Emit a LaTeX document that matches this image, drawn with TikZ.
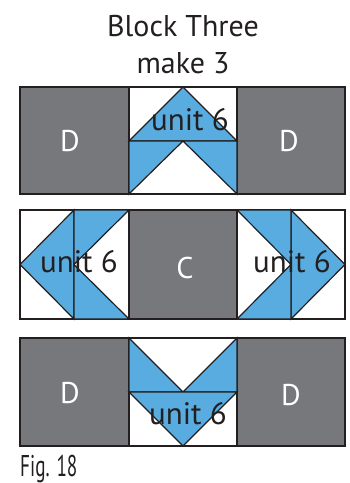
\documentclass[tikz,border=0pt]{standalone}
\usepackage{fontspec}
\setmainfont{PT Sans}
\newfontfamily\narrowfont[FakeStretch=0.64]{PT Sans}
\definecolor{qgrey}{HTML}{77787B}
\definecolor{qblue}{HTML}{58ACE0}
\definecolor{qline}{HTML}{231F20}
\begin{document}
\begin{tikzpicture}[x=1pt,y=-1pt,%
% common options for the patches:
patch/.style = {draw=qline, line width=1.2pt, line join=miter},
dark/.style = {patch, fill=qgrey},
geese/.style = {patch, fill=qblue},
% common options for the labels:
letter/.style = {text=white, inner sep=0, font=\fontsize{30}{30}\selectfont},
unit/.style = {text=qline, inner sep=0, font=\fontsize{31}{31}\selectfont}]
\useasboundingbox (0,0) rectangle (349,483);
\node[inner sep=0, text=qline, font=\fontsize{30}{30}\selectfont] (T1) at (183,26) {Block Three};
\node[inner sep=0, text=qline, font=\fontsize{30}{30}\selectfont] (T2) at (183,63) {make 3};
% top row
\draw[dark] (20,87) rectangle (129,194);
\draw[dark] (237,87) rectangle (345,194);
\draw[patch, fill=white] (129,87) rectangle (237,194);
\draw[geese] (129,141) -- (183,87) -- (237,141) -- cycle;
\draw[geese] (129,141) -- (129,194) -- (183,141) -- cycle;
\draw[geese] (237,141) -- (237,194) -- (183,141) -- cycle;
\node[letter] (D1) at (70,141) {D};
\node[letter] (D2) at (289,141) {D};
\node[unit] (U1) at (190,120) {unit 6};
% middle row
\draw[patch, fill=white] (20,210) rectangle (129,319);
\draw[geese] (74,210) -- (20,264.5) -- (74,319) -- cycle;
\draw[geese] (74,210) -- (129,210) -- (74,264.5) -- cycle;
\draw[geese] (74,319) -- (129,319) -- (74,264.5) -- cycle;
\draw[dark] (129,210) rectangle (237,319);
\draw[patch, fill=white] (237,210) rectangle (345,319);
\draw[geese] (291,210) -- (345,264.5) -- (291,319) -- cycle;
\draw[geese] (237,210) -- (291,210) -- (291,264.5) -- cycle;
\draw[geese] (237,319) -- (291,319) -- (291,264.5) -- cycle;
\node[unit] (U2) at (79,262) {unit 6};
\node[letter] (C1) at (185,268) {C};
\node[unit] (U3) at (292,262) {unit 6};
% bottom row
\draw[dark] (20,338) rectangle (129,446);
\draw[dark] (237,338) rectangle (345,446);
\draw[patch, fill=white] (129,338) rectangle (237,446);
\draw[geese] (129,338) -- (183,392) -- (129,392) -- cycle;
\draw[geese] (237,338) -- (183,392) -- (237,392) -- cycle;
\draw[geese] (129,392) -- (237,392) -- (183,446) -- cycle;
\node[letter] (D3) at (70,393) {D};
\node[letter] (D4) at (291,395) {D};
\node[unit] (U4) at (188,414) {unit 6};
\node[inner sep=0, anchor=base west, text=qline, font=\narrowfont\fontsize{30}{30}\selectfont] (F1) at (20,476) {Fig. 18};
\end{tikzpicture}
\end{document}
